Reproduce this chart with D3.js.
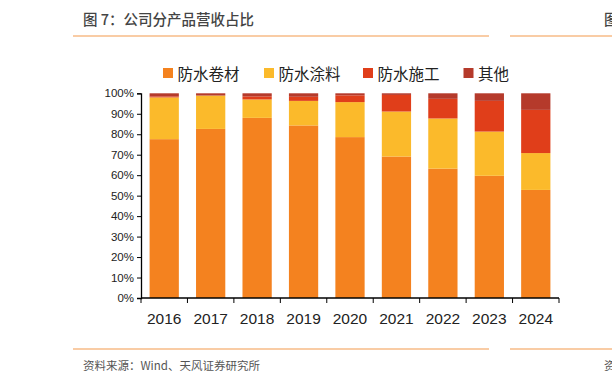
<!DOCTYPE html>
<html>
<head>
<meta charset="utf-8">
<script src="https://cdn.jsdelivr.net/npm/d3@7"></script>
<style>
  body { margin: 0; background: #fff; }
  svg { display: block; font-family: "Liberation Sans", Arial, "Noto Sans CJK SC", sans-serif; }
</style>
</head>
<body>
<svg id="chart" width="612" height="384"></svg>
<script>
// data (percent of revenue)
const years = ['2016', '2017', '2018', '2019', '2020', '2021', '2022', '2023', '2024'];
const seriesNames = ['防水卷材', '防水涂料', '防水施工', '其他'];
const membrane = [77.6, 82.6, 88.0, 84.3, 78.6, 69.1, 63.2, 59.7, 52.8];
const coating = [20.4, 16.3, 9.0, 12.0, 17.1, 22.0, 24.5, 21.6, 18.0];
const construction = [0.5, 0.0, 1.5, 2.0, 3.3, 8.1, 9.6, 15.0, 21.1];
const other = [1.5, 1.1, 1.5, 1.7, 1.0, 0.8, 2.7, 3.7, 8.1];
const yTicks = [0, 10, 20, 30, 40, 50, 60, 70, 80, 90, 100];

const colors = ['#F4821F', '#FBBA2B', '#E03E1A', '#B53A2B'];

const svg = d3.select('#chart');

// table for the stack
const rows = years.map((y, i) => ({
  year: y,
  '防水卷材': membrane[i],
  '防水涂料': coating[i],
  '防水施工': construction[i],
  '其他': other[i]
}));
const stacked = d3.stack().keys(seriesNames)(rows);

const x = d3.scaleBand().domain(years).range([141, 559]).paddingInner(0.37).paddingOuter(0.185);
const y = d3.scaleLinear().domain([0, 100]).range([298, 93.3]);

// header / footer frame
svg.append('text')
  .attr('x', 83).attr('y', 25)
  .attr('font-size', 14.5).attr('font-weight', 500)
  .attr('fill', '#444')
  .attr('font-family', '"Noto Sans CJK SC", sans-serif')
  .text('图 7：公司分产品营收占比');

[36, 349].forEach(yy => {
  svg.append('line').attr('x1', 73).attr('x2', 489).attr('y1', yy).attr('y2', yy)
    .attr('stroke', '#F39A4C').attr('stroke-width', 1.2);
  svg.append('line').attr('x1', 510).attr('x2', 612).attr('y1', yy).attr('y2', yy)
    .attr('stroke', '#F39A4C').attr('stroke-width', 1.2);
});
// neighbouring panel, cut by the page edge as in the source
svg.append('text').attr('x', 604).attr('y', 25)
  .attr('font-size', 14.5).attr('font-weight', 500).attr('fill', '#444')
  .attr('font-family', '"Noto Sans CJK SC", sans-serif').text('图');

svg.append('text')
  .attr('x', 83).attr('y', 370)
  .attr('font-size', 11.5).attr('fill', '#555')
  .attr('font-family', '"Noto Sans CJK SC", sans-serif')
  .text('资料来源：Wind、天风证券研究所');
svg.append('text').attr('x', 604).attr('y', 370)
  .attr('font-size', 11.5).attr('fill', '#555')
  .attr('font-family', '"Noto Sans CJK SC", sans-serif').text('资');

// legend
const legendX = [163, 264, 363, 463.5];
const legend = svg.selectAll('g.legend')
  .data(seriesNames)
  .enter()
  .append('g')
  .attr('class', 'legend')
  .attr('transform', (d, i) => `translate(${legendX[i]},73)`);
legend.append('rect')
  .attr('x', 0).attr('y', -5).attr('width', 10).attr('height', 10)
  .attr('fill', (d, i) => colors[i]);
legend.append('text')
  .attr('x', 14.5).attr('y', 0)
  .attr('dominant-baseline', 'central')
  .attr('font-size', 15.5).attr('fill', '#222')
  .attr('font-family', '"Noto Sans CJK SC", sans-serif')
  .text(d => d);

// bars
svg.selectAll('g.series')
  .data(stacked)
  .enter()
  .append('g')
  .attr('class', 'series')
  .attr('fill', (d, i) => colors[i])
  .selectAll('rect')
  .data(d => d)
  .enter()
  .append('rect')
  .attr('x', d => x(d.data.year))
  .attr('width', x.bandwidth())
  .attr('y', d => y(d[1]))
  .attr('height', d => y(d[0]) - y(d[1]));

// y axis
const yAxis = svg.append('g')
  .attr('transform', 'translate(141,0)')
  .call(d3.axisLeft(y).tickValues(yTicks).tickFormat(d => d + '%').tickSize(4).tickPadding(3));
yAxis.select('.domain').attr('stroke', '#000').attr('stroke-width', 1.3);
yAxis.selectAll('.tick line').attr('stroke', '#000');
yAxis.selectAll('text').attr('font-size', 11.5).attr('fill', '#222')
  .attr('font-family', '"Liberation Sans", Arial, sans-serif');

// x axis with ticks at band edges
const xAxis = svg.append('g').attr('transform', 'translate(0,298)');
xAxis.append('line').attr('x1', 141).attr('x2', 559).attr('stroke', '#000').attr('stroke-width', 1.3);
const edges = years.map(yr => x(yr) - x.step() * x.paddingInner() / 2);
edges.push(559);
edges[0] = 141;
xAxis.selectAll('line.edge')
  .data(edges)
  .enter()
  .append('line')
  .attr('class', 'edge')
  .attr('x1', d => d).attr('x2', d => d)
  .attr('y1', 0).attr('y2', 5)
  .attr('stroke', '#000');
xAxis.selectAll('text')
  .data(years)
  .enter()
  .append('text')
  .attr('x', d => x(d) + x.bandwidth() / 2)
  .attr('y', 26)
  .attr('text-anchor', 'middle')
  .attr('font-size', 15.5).attr('fill', '#222')
  .attr('font-family', '"Liberation Sans", Arial, sans-serif')
  .text(d => d);
</script>
</body>
</html>
